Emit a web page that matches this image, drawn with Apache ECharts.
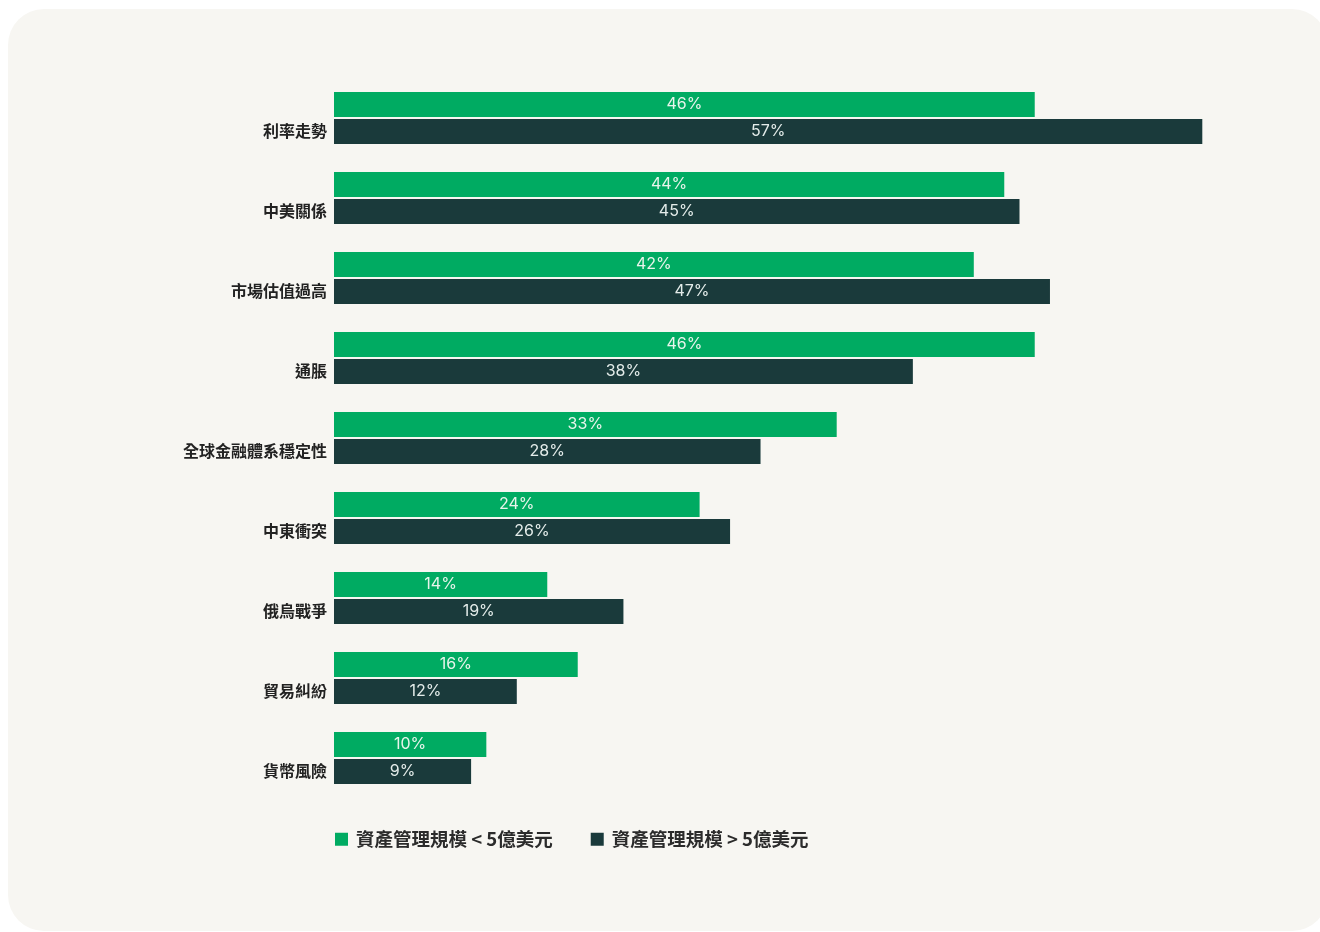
<!DOCTYPE html>
<html>
<head>
<meta charset="utf-8">
<script src="https://cdn.jsdelivr.net/npm/echarts@6/dist/echarts.min.js"></script>
<style>
  html, body { margin: 0; padding: 0; background: #fff; }
  #card {
    position: absolute; left: 8px; top: 9px;
    width: 1320px; height: 922px;
    background: #f7f6f2; border-radius: 36px;
  }
  #chart { position: absolute; left: 0; top: 0; width: 1320px; height: 932px; }
</style>
</head>
<body>
<div id="card"></div>
<div id="chart"></div>
<script>
// categories, top to bottom
var categories = ['利率走勢', '中美關係', '市場估值過高', '通脹', '全球金融體系穩定性', '中東衝突', '俄烏戰爭', '貿易糾紛', '貨幣風險'];
var smallAum = [46, 44, 42, 46, 33, 24, 14, 16, 10];
var largeAum = [57, 45, 47, 38, 28, 26, 19, 12, 9];
var seriesNames = ['資產管理規模 < 5億美元', '資產管理規模 > 5億美元'];

var font = 'Inter, "Noto Sans CJK TC", sans-serif';

var myChart = echarts.init(document.getElementById('chart'));
var option = {
    backgroundColor: 'transparent',
    animation: false,
    grid: { left: 334, right: 72, top: 78, bottom: 134 },
    legend: {
        left: 330,
        top: 825,
        itemWidth: 13,
        itemHeight: 13,
        itemGap: 38,
        icon: 'rect',
        textStyle: {
            fontFamily: '"Noto Sans CJK TC", sans-serif', fontSize: 18.5, fontWeight: 'bold', color: '#2b2b2b',
            padding: [0, 0, 0, 3]
        },
        data: seriesNames
    },
    xAxis: {
        type: 'value',
        min: 0,
        max: 60,
        show: false
    },
    yAxis: {
        type: 'category',
        inverse: true,
        data: categories,
        axisLine: { show: false },
        axisTick: { show: false },
        axisLabel: {
            margin: 7,
            lineHeight: 26,
            // label sits beside the second (dark) bar
            formatter: function (v) { return '\n' + v; },
            fontFamily: '"Noto Sans CJK TC", sans-serif',
            fontSize: 16,
            fontWeight: 'bold',
            color: '#222'
        }
    },
    series: [
        {
            name: seriesNames[0],
            type: 'bar',
            data: smallAum,
            barWidth: 25,
            barGap: '8%',
            itemStyle: { color: '#00ab62' },
            label: {
                show: true, position: 'inside',
                formatter: '{c}%',
                fontFamily: font, fontSize: 16, color: '#e8f4ec'
            }
        },
        {
            name: seriesNames[1],
            type: 'bar',
            data: largeAum,
            barWidth: 25,
            itemStyle: { color: '#1a3a3b' },
            label: {
                show: true, position: 'inside',
                formatter: '{c}%',
                fontFamily: font, fontSize: 16, color: '#e4ecea'
            }
        }
    ]
};
myChart.setOption(option);
</script>
</body>
</html>
